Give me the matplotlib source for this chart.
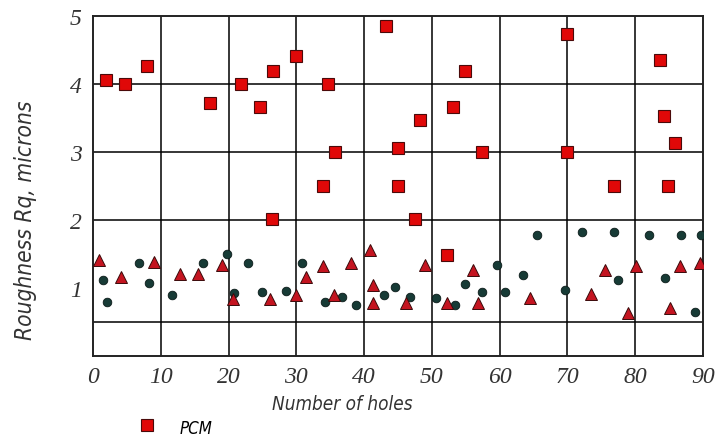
import matplotlib
matplotlib.use("Agg")
import matplotlib.pyplot as plt
from matplotlib.lines import Line2D

# PCM (red squares)
pcm_x = [1.9, 4.7, 7.9, 17.2, 21.8, 24.6, 26.4, 26.6, 29.95, 33.9, 34.6, 35.7,
         43.3, 44.95, 44.95, 47.5, 48.2, 52.2, 53.1, 54.9, 57.4, 69.9, 69.9,
         76.8, 83.6, 84.3, 84.9, 85.9]
pcm_y = [4.06, 3.99, 4.26, 3.72, 3.99, 3.65, 2.01, 4.19, 4.41, 2.50, 3.99, 3.00,
         4.85, 3.06, 2.50, 2.01, 3.46, 1.49, 3.66, 4.19, 3.00, 4.73, 3.00,
         2.50, 4.35, 3.52, 2.50, 3.13]

# second series (dark circles)
circ_x = [1.5, 2.0, 6.8, 8.2, 11.7, 16.2, 19.7, 20.8, 22.9, 25.0, 28.5,
          30.8, 34.2, 36.8, 38.8, 43.0, 44.6, 46.8, 50.6, 53.4, 54.9, 57.4, 59.6,
          60.8, 63.5, 65.5, 69.6, 72.1, 76.8, 77.5, 82.1, 84.4, 86.75, 88.8, 89.7]
circ_y = [1.12, 0.79, 1.36, 1.07, 0.90, 1.36, 1.50, 0.925, 1.36, 0.935, 0.96,
          1.36, 0.79, 0.86, 0.75, 0.89, 1.02, 0.87, 0.85, 0.75, 1.05, 0.935, 1.33,
          0.935, 1.19, 1.78, 0.97, 1.82, 1.82, 1.12, 1.78, 1.14, 1.78, 0.65, 1.78]

# third series (red triangles)
tri_x = [0.83, 4.2, 9.0, 12.9, 15.5, 19.0, 20.6, 26.1, 30.0, 31.5, 34.0, 35.6,
         38.1, 40.8, 41.3, 41.3, 46.2, 49.0, 52.3, 56.0, 56.8, 64.5, 73.5, 75.6,
         78.9, 80.1, 85.1, 86.6, 89.5]
tri_y = [1.41, 1.16, 1.38, 1.21, 1.21, 1.34, 0.84, 0.84, 0.89, 1.16, 1.32, 0.895,
         1.37, 1.55, 1.04, 0.78, 0.78, 1.34, 0.78, 1.26, 0.78, 0.85, 0.91, 1.26,
         0.63, 1.32, 0.70, 1.32, 1.37]

x_ticks = [0, 10, 20, 30, 40, 50, 60, 70, 80, 90]
y_ticks = [1, 2, 3, 4, 5]
h_grid = [0.5, 2, 3, 4]

fig = plt.figure(figsize=(7.16, 4.39), dpi=100)
ax = fig.add_axes([0.1299, 0.1868, 0.8519, 0.7756])
ax.set_xlim(0, 90)
ax.set_ylim(0, 5)

for gx in x_ticks[1:-1]:
    ax.axvline(gx, color="black", lw=1.1, zorder=1)
for gy in h_grid:
    ax.axhline(gy, color="black", lw=1.1, zorder=1)

ax.plot(circ_x, circ_y, "o", ms=6.2, mfc="#173b36", mec="#0a1a18", mew=0.6,
        ls="none", zorder=3)
ax.plot(tri_x, tri_y, "^", ms=8.5, mfc="#c41420", mec="#3a0a0a", mew=0.7,
        ls="none", zorder=3)
ax.plot(pcm_x, pcm_y, "s", ms=8, mfc="#e00808", mec="#4a0a0a", mew=0.8,
        ls="none", zorder=4)

for sp in ax.spines.values():
    sp.set_linewidth(1.4)
    sp.set_color("#222222")

ax.set_xticks(x_ticks)
ax.set_yticks(y_ticks)
ax.tick_params(axis="x", length=0, pad=7)
ax.tick_params(axis="y", length=0, pad=8)
for lab in ax.get_xticklabels() + ax.get_yticklabels():
    lab.set_fontfamily("Liberation Serif")
    lab.set_fontstyle("italic")
    lab.set_fontsize(17)
    lab.set_color("#333333")

lblfont = dict(family="DejaVu Sans", style="italic", stretch="condensed",
               weight="light", size=17, color="#333333")
xl = ax.set_xlabel("Number of holes", **lblfont)
yl = ax.set_ylabel("Roughness Rq, microns", **lblfont)
xl.set_va("center")
xl.set_ha("center")
yl.set_va("center")
yl.set_ha("center")
ax.xaxis.set_label_coords((342 - 93) / 610.0, (357 - 405) / 340.5)
ax.yaxis.set_label_coords((25 - 93) / 610.0, (357 - 220) / 340.5)

handle = Line2D([], [], marker="s", ls="none", ms=8, mfc="#e00808",
                mec="#4a0a0a", mew=0.8)
leg = fig.legend([handle], ["PCM"], loc="center left",
                 bbox_to_anchor=(135.0 / 716, 1 - 428.0 / 439), frameon=False,
                 handlelength=1.0, handletextpad=0.9, borderpad=0,
                 borderaxespad=0,
                 prop=dict(family="DejaVu Sans", style="italic",
                           stretch="condensed", size=17))

# fit label sizes to the reference extents (pixels)
fig.canvas.draw()
r = fig.canvas.get_renderer()
bb = xl.get_window_extent(r)
xl.set_fontsize(17 * 141.0 / bb.width)
bb = yl.get_window_extent(r)
yl.set_fontsize(17 * 240.0 / bb.height)
lt = leg.get_texts()[0]
bb = lt.get_window_extent(r)
lt.set_fontsize(17 * 33.0 / bb.width)

fig.savefig("out.png", dpi=100)
